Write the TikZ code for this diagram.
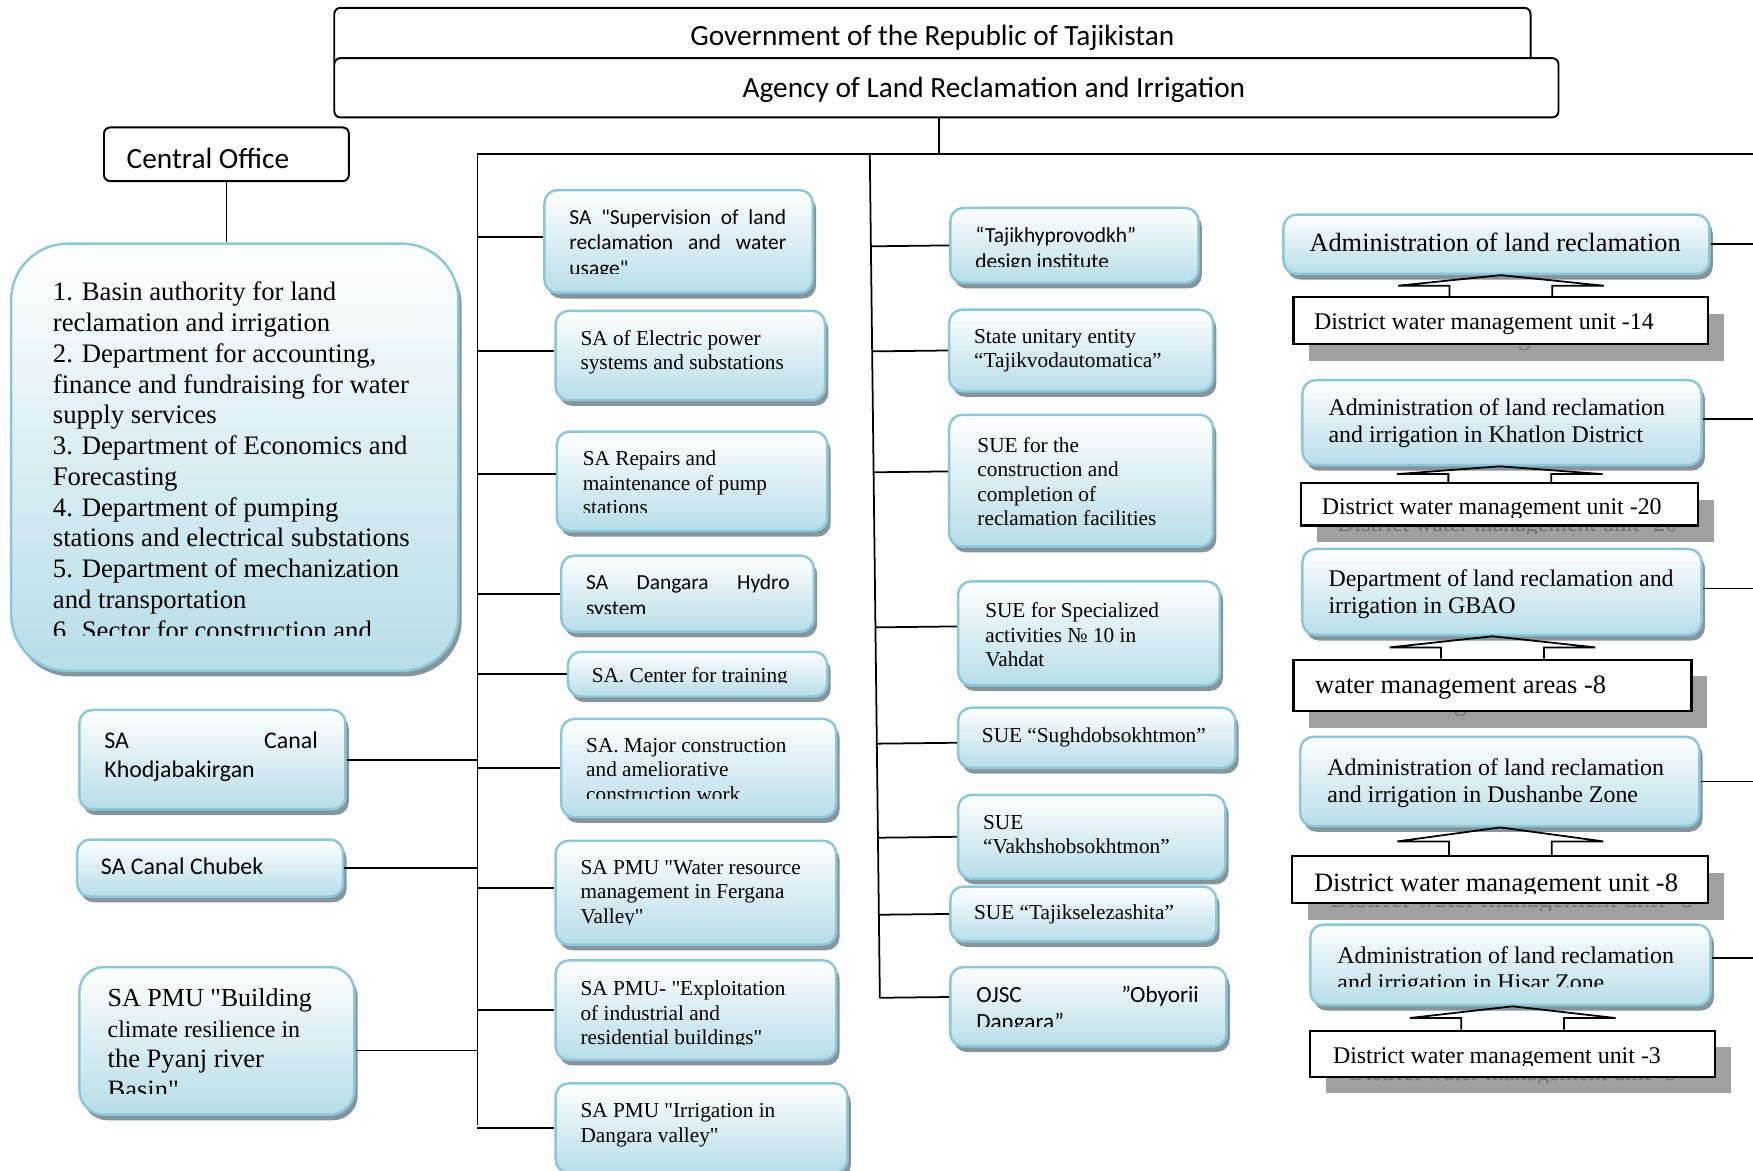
\documentclass[tikz,border=0pt]{standalone}
\usepackage{fontspec}
\setmainfont{Liberation Serif}
\newfontfamily\calib{Carlito}
\usetikzlibrary{fit,calc,shadows}
\definecolor{rim}{RGB}{139,199,217}
\definecolor{sea}{RGB}{183,221,232}
\definecolor{slate}{RGB}{134,148,155}
\definecolor{ash}{RGB}{160,160,160}
\definecolor{ink}{RGB}{112,112,112}
\tikzstyle{card} = [draw=rim, line width=1.4pt, rounded corners=7.5pt, top color=white, bottom color=sea, drop shadow={shadow xshift=1.9pt, shadow yshift=-3.2pt, fill=slate, opacity=1}, inner sep=0pt]
\tikzstyle{frame} = [draw, line width=1.1pt, rounded corners=3.5pt, fill=white, inner sep=0pt]
\tikzstyle{unit} = [draw, line width=1.2pt, fill=white, inner sep=0pt, drop shadow={shadow xshift=8.9pt, shadow yshift=-9.5pt, fill=ash, opacity=1}]
\tikzstyle{link} = [line width=1pt]
\tikzstyle{tab} = [line width=1pt]
\tikzstyle{txt} = [anchor=north west, inner sep=0pt, align=left]
\tikzstyle{rmsm} = [txt, font=\fontsize{12.1}{13.9}\selectfont]
\tikzstyle{sfsm} = [txt, font=\calib\fontsize{12.2}{14.5}\selectfont]
\tikzstyle{sfmd} = [txt, font=\calib\fontsize{13.6}{16.5}\selectfont]
\tikzstyle{rmmd} = [txt, font=\fontsize{13.6}{15.6}\selectfont]
\tikzstyle{rmlg} = [txt, font=\fontsize{15.1}{17.4}\selectfont]
\tikzstyle{sflg} = [anchor=north, inner sep=0pt, font=\calib\fontsize{16.7}{20}\selectfont]
\tikzstyle{ghost} = [rmmd, text=ink]

\begin{document}
\begin{tikzpicture}[x=0.2236mm, y=-0.2236mm]
  \useasboundingbox (0,0) rectangle (1568,1047);
  \clip (0,0) rectangle (1568,1047);
  % head of the chart
  \node[frame, fit={(299,7) (1369,60)}] (gov) {};
  \begin{scope}
    \clip (299,7) rectangle (1369,46);
    \node[sflg] (gov-t) at (834,22) {Government of the Republic of Tajikistan};
  \end{scope}
  \node[frame, fit={(299,52) (1394,105)}] (agy) {};
  \node[sflg] (agy-t) at (889,69) {Agency of Land Reclamation and Irrigation};
  \node[frame, fit={(93,114) (312,162)}] (cen) {};
  \node[sflg, anchor=north west] (cen-t) at (113,132) {Central Office};

  % central office departments
  \node[card, rounded corners=32pt, fit={(10,218) (410,600)}] (basin) {};
  \begin{scope}
    \clip (10,218) rectangle (410,568);
    \node[txt, font=\fontsize{15.2}{17.5}\selectfont] (basin-t) at (47,252) {1. Basin authority for land\\reclamation and irrigation\\2. Department for accounting,\\finance and fundraising for water\\supply services\\3. Department of Economics and\\Forecasting\\4. Department of pumping\\stations and electrical substations\\5. Department of mechanization\\and transportation\\6. Sector for construction and};
  \end{scope}

  % left column
  \node[card, fit={(71,635) (309,724)}] (kho) {};
  \node[sfmd, text width=121.5pt] (kho-t) at (93,654) {SA\hfill Canal\\Khodjabakirgan};
  \node[card, fit={(69,751) (307,802)}] (chu) {};
  \node[sfmd] (chu-t) at (90,767) {SA Canal Chubek};
  \node[card, rounded corners=14pt, fit={(71,865) (317,997)}] (pyj) {};
  \begin{scope}
    \clip (71,865) rectangle (317,978);
    \node[rmlg] (pyj-t) at (96,884) {{\fontsize{14.8}{17.4}\selectfont SA PMU \textquotedbl Building}\\{\fontsize{13.6}{17.4}\selectfont climate resilience in}\\the Pyanj river\\Basin\textquotedbl};
  \end{scope}

  % second column
  \node[card, fit={(487,170) (727,262)}] (sup) {};
  \begin{scope}
    \clip (487,170) rectangle (727,245);
    \node[sfsm] (sup-t) at (509,187) {\makebox[123.4pt][s]{SA \textquotedbl Supervision of land}\\\makebox[123.4pt][s]{reclamation and water}\\usage\textquotedbl};
  \end{scope}
  \node[card, fit={(497,278) (738,358)}] (ele) {};
  \node[rmsm] (ele-t) at (519,295) {SA of Electric power\\systems and substations};
  \node[card, fit={(498,386) (740,475)}] (rep) {};
  \begin{scope}
    \clip (498,386) rectangle (740,458);
    \node[rmsm] (rep-t) at (521,403) {SA Repairs and\\maintenance of pump\\stations};
  \end{scope}
  \node[card, fit={(502,497) (728,565)}] (dan) {};
  \begin{scope}
    \clip (502,497) rectangle (728,549);
    \node[sfsm, text width=115.8pt] (dan-t) at (524,514) {SA\hfill Dangara\hfill Hydro\\system};
  \end{scope}
  \node[card, fit={(508,583) (740,623)}] (trn) {};
  \begin{scope}
    \clip (508,583) rectangle (740,610.5);
    \node[rmsm] (trn-t) at (529,597) {SA. Center for training};
  \end{scope}
  \node[card, fit={(502,643) (748,731)}] (maj) {};
  \begin{scope}
    \clip (502,643) rectangle (748,714);
    \node[rmsm] (maj-t) at (524,660) {SA. Major construction\\and ameliorative\\construction work};
  \end{scope}
  \node[card, fit={(497,752) (748,845)}] (fer) {};
  \begin{scope}
    \clip (497,752) rectangle (748,827);
    \node[rmsm] (fer-t) at (519,769) {SA PMU \textquotedbl Water resource\\management in Fergana\\Valley\textquotedbl};
  \end{scope}
  \node[card, fit={(497,859) (748,948)}] (exp) {};
  \begin{scope}
    \clip (497,859) rectangle (748,934);
    \node[rmsm] (exp-t) at (519,877) {SA PMU- \textquotedbl Exploitation\\of industrial and\\residential buildings\textquotedbl};
  \end{scope}
  \node[card, fit={(497,969) (758,1049)}] (irr) {};
  \node[rmsm] (irr-t) at (519,987) {SA PMU \textquotedbl Irrigation in\\Dangara valley\textquotedbl};

  % third column
  \node[card, fit={(850,186) (1072,253)}] (tjh) {};
  \begin{scope}
    \clip (850,186) rectangle (1072,238.5);
    \node[sfsm] (tjh-t) at (872,203) {“Tajikhyprovodkh”\\design institute};
  \end{scope}
  \node[card, fit={(849,277) (1085,350)}] (tjv) {};
  \node[rmsm] (tjv-t) at (871,294) {State unitary entity\\“Tajikvodautomatica”};
  \node[card, fit={(849,371) (1085,489)}] (sue) {};
  \node[rmsm] (sue-t) at (874,391) {SUE for the\\construction and\\completion of\\reclamation facilities};
  \node[card, fit={(857,520) (1091,613)}] (vah) {};
  \node[rmsm] (vah-t) at (881,539) {SUE for Specialized\\activities № 10 in\\Vahdat};
  \node[card, fit={(857,633) (1105,687)}] (sug) {};
  \node[rmsm] (sug-t) at (878,651) {SUE “Sughdobsokhtmon”};
  \node[card, fit={(857,711) (1096,786)}] (vak) {};
  \node[rmsm] (vak-t) at (879,729) {SUE\\“Vakhshobsokhtmon”};
  \node[card, fit={(850,793) (1088,842)}] (tjs) {};
  \node[rmsm] (tjs-t) at (871,809) {SUE “Tajikselezashita”};
  \node[card, fit={(850,865) (1097,936)}] (ojs) {};
  \begin{scope}
    \clip (850,865) rectangle (1097,918);
    \node[sfmd, font=\calib\fontsize{13.2}{15.3}\selectfont, text width=126.6pt] (ojs-t) at (873,882) {OJSC\hfill ”Obyorii\\Dangara”};
  \end{scope}

  % regional administrations
  \node[card, fit={(1148,192) (1529,245)}] (a1) {};
  \node[txt, font=\fontsize{15}{18}\selectfont] (a1-t) at (1171,208) {Administration of land reclamation};
  \node[unit, fit={(1157,266) (1528,308)}] (d1) {};
  \begin{scope}
    \clip (1150,309.5) rectangle (1560,323);
    \node[ghost] (d1-g) at (1189,295) {District water management unit -14};
  \end{scope}
  \node[rmmd] (d1-t) at (1175,280) {District water management unit -14};

  \node[card, fit={(1165,340) (1522,416)}] (a2) {};
  \node[rmmd] (a2-t) at (1188,356) {Administration of land reclamation\\and irrigation in Khatlon District};
  \node[unit, fit={(1164,432) (1519,470)}] (d2) {};
  \begin{scope}
    \clip (1150,471.5) rectangle (1560,477.5);
    \node[ghost] (d2-g) at (1196,461) {District water management unit -20};
  \end{scope}
  \begin{scope}
    \clip (1164,432) rectangle (1519,462.5);
    \node[rmmd] (d2-t) at (1182,446) {District water management unit -20};
  \end{scope}

  \node[card, fit={(1165,491) (1522,568)}] (a3) {};
  \node[rmmd] (a3-t) at (1188,509) {Department of land reclamation and\\irrigation in GBAO};
  \node[unit, fit={(1157,590) (1513,636)}] (w8) {};
  \begin{scope}
    \clip (1150,637.5) rectangle (1560,651);
    \node[ghost, font=\fontsize{15.1}{17.4}\selectfont] (w8-g) at (1190,619) {water management areas -8};
  \end{scope}
  \node[rmlg] (w8-t) at (1176,604) {water management areas -8};

  \node[card, fit={(1163,659) (1520,739)}] (a4) {};
  \node[rmmd] (a4-t) at (1187,678) {Administration of land reclamation\\and irrigation in Dushanbe Zone};
  \node[unit, fit={(1156,766) (1528,808)}] (d4) {};
  \begin{scope}
    \clip (1150,809.5) rectangle (1560,814);
    \node[ghost, font=\fontsize{15.1}{17.4}\selectfont] (d4-g) at (1189,796) {District water management unit -8};
  \end{scope}
  \begin{scope}
    \clip (1156,766) rectangle (1528,799);
    \node[rmlg] (d4-t) at (1175,781) {District water management unit -8};
  \end{scope}

  \node[card, fit={(1172,827) (1530,899)}] (a5) {};
  \begin{scope}
    \clip (1172,827) rectangle (1530,882.5);
    \node[rmmd] (a5-t) at (1196,846) {Administration of land reclamation\\and irrigation in Hisar Zone};
  \end{scope}
  \node[unit, fit={(1172,922) (1534,963)}] (d5) {};
  \begin{scope}
    \clip (1150,964.5) rectangle (1560,968);
    \node[ghost] (d5-g) at (1206,952) {District water management unit -3};
  \end{scope}
  \begin{scope}
    \clip (1172,922) rectangle (1534,953);
    \node[rmmd] (d5-t) at (1192,937) {District water management unit -3};
  \end{scope}

  % arrow tabs between administrations and units
  \coordinate (m1) at ($(d1.north)!.5!(d1.north |- a1.south)$);
  \coordinate (m2) at ($(d2.north)!.5!(d2.north |- a2.south)$);
  \coordinate (m3) at ($(w8.north)!.5!(w8.north |- a3.south)$);
  \coordinate (m4) at ($(d4.north)!.5!(d4.north |- a4.south)$);
  \coordinate (m5) at ($(d5.north)!.5!(d5.north |- a5.south)$);
  \draw[tab] ($(d1.north)+(-46,0)$) -- ($(m1)+(-46,0)$) -- ++(-46,0) -- (d1.north |- a1.south) -- ($(m1)+(92,0)$) -- ++(-46,0) -- ($(d1.north)+(46,0)$);
  \draw[tab] ($(d2.north)+(-46,0)$) -- ($(m2)+(-46,0)$) -- ++(-46,0) -- (d2.north |- a2.south) -- ($(m2)+(92,0)$) -- ++(-46,0) -- ($(d2.north)+(46,0)$);
  \draw[tab] ($(w8.north)+(-46,0)$) -- ($(m3)+(-46,0)$) -- ++(-46,0) -- (w8.north |- a3.south) -- ($(m3)+(92,0)$) -- ++(-46,0) -- ($(w8.north)+(46,0)$);
  \draw[tab] ($(d4.north)+(-46,0)$) -- ($(m4)+(-46,0)$) -- ++(-46,0) -- (d4.north |- a4.south) -- ($(m4)+(92,0)$) -- ++(-46,0) -- ($(d4.north)+(46,0)$);
  \draw[tab] ($(d5.north)+(-46,0)$) -- ($(m5)+(-46,0)$) -- ++(-46,0) -- (d5.north |- a5.south) -- ($(m5)+(92,0)$) -- ++(-46,0) -- ($(d5.north)+(46,0)$);

  % buses
  \coordinate (drop) at (840,138);
  \coordinate (lb) at (427,138);
  \coordinate (lbe) at (427,1006);
  \coordinate (mb) at (778,138);
  \coordinate (mbe) at (787,893);
  \coordinate (rb) at (1568,138);
  \draw[link] (agy.south -| drop) -- (drop);
  \draw[link] (lb) -- (rb);
  \draw[link] (lb) -- (lbe);
  \draw[link] (mb) -- (mbe);
  \draw[link] (cen.south) -- (cen.south |- basin.north);

  % links to the buses
  \draw[link] (kho.east) -- (kho.east -| lb);
  \draw[link] (chu.east) -- (chu.east -| lb);
  \draw[link] (pyj.356) -- (pyj.356 -| lb);
  \draw[link] (sup.178 -| lb) -- (sup.178);
  \draw[link] (ele.178 -| lb) -- (ele.178);
  \draw[link] (rep.177 -| lb) -- (rep.177);
  \draw[link] (dan.west -| lb) -- (dan.west);
  \draw[link] (trn.west -| lb) -- (trn.west);
  \draw[link] (maj.west -| lb) -- (maj.west);
  \draw[link] (fer.178 -| lb) -- (fer.178);
  \draw[link] (exp.west -| lb) -- (exp.west);
  \draw[link] (irr.west -| lb) -- (irr.west);
  \draw[link] ($(mb)!(tjh.west)!(mbe)$) -- (tjh.west);
  \draw[link] ($(mb)!(tjv.west)!(mbe)$) -- (tjv.west);
  \draw[link] ($(mb)!(sue.176)!(mbe)$) -- (sue.176);
  \draw[link] ($(mb)!(vah.177)!(mbe)$) -- (vah.177);
  \draw[link] ($(mb)!(sug.182)!(mbe)$) -- (sug.182);
  \draw[link] ($(mb)!(vak.west)!(mbe)$) -- (vak.west);
  \draw[link] ($(mb)!(tjs.west)!(mbe)$) -- (tjs.west);
  \draw[link] ($(mb)!(ojs.176)!(mbe)$) -- (ojs.176);
  \draw[link] (a1.east) -- (a1.east -| rb);
  \draw[link] (a2.1) -- (a2.1 -| rb);
  \draw[link] (a3.1) -- (a3.1 -| rb);
  \draw[link] (a4.east) -- (a4.east -| rb);
  \draw[link] (a5.2) -- (a5.2 -| rb);
\end{tikzpicture}
\end{document}
